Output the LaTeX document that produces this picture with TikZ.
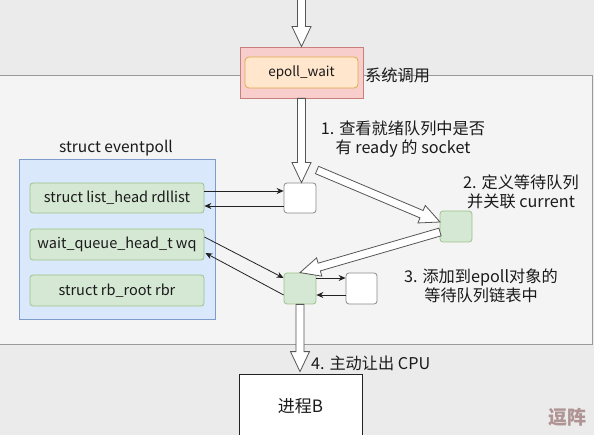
\documentclass[tikz,border=0pt]{standalone}
\usepackage{fontspec}
\setmainfont{Noto Sans CJK SC}
\usetikzlibrary{calc,arrows.meta}
\definecolor{bgc}{HTML}{EBEBEB}
\definecolor{innerc}{HTML}{F4F4F5}
\definecolor{innerline}{HTML}{9A9A9A}
\definecolor{pinkf}{HTML}{F8CECC}
\definecolor{pinkd}{HTML}{C87E7A}
\definecolor{orangef}{HTML}{FFE6CC}
\definecolor{oranged}{HTML}{E0A94A}
\definecolor{bluef}{HTML}{DAE8FC}
\definecolor{blued}{HTML}{7E9CCB}
\definecolor{greenf}{HTML}{D5E8D4}
\definecolor{greend}{HTML}{9CC38A}
\definecolor{whited}{HTML}{8A8A8A}
\definecolor{fatc}{HTML}{555555}
\definecolor{arrc}{HTML}{222222}
\definecolor{txtc}{HTML}{1A1A1A}
\definecolor{wmc}{HTML}{B09494}
\tikzset{
  fatarr/.style={draw=fatc, fill=white, line width=0.8pt, line join=miter},
  thinarr/.style={draw=arrc, line width=0.8pt, -{Stealth[length=7pt,width=6pt]}},
  basebox/.style={rectangle, inner sep=0pt, line width=0.8pt, text=txtc},
  greenbox/.style={basebox, fill=greenf, draw=greend, rounded corners=3pt},
  whitebox/.style={basebox, fill=white, draw=whited, rounded corners=3pt},
  lbl/.style={text=txtc, font=\fontsize{16.2}{19}\selectfont, align=center, inner sep=0pt},
  code/.style={font=\fontsize{14.5}{16}\selectfont}
}
\newcommand\fatarrow[2]{%
  \path[fatarr] let \p1=(#1), \p2=(#2), \n1={atan2(\y2-\y1,\x2-\x1)} in
    ($(\p1)+(\n1+90:4pt)$) --
    ($(\p2)+(\n1+180:20pt)+(\n1+90:4pt)$) --
    ($(\p2)+(\n1+180:20pt)+(\n1+90:9.5pt)$) --
    (\p2) --
    ($(\p2)+(\n1+180:20pt)+(\n1-90:9.5pt)$) --
    ($(\p2)+(\n1+180:20pt)+(\n1-90:4pt)$) --
    ($(\p1)+(\n1-90:4pt)$) -- cycle;}
\begin{document}
\begin{tikzpicture}[x=1pt,y=-1pt]
\useasboundingbox (0,0) rectangle (594,435);
\fill[bgc] (0,0) rectangle (594,435);
\filldraw[fill=innerc, draw=innerline, line width=0.9pt] (-2,75) rectangle (592,344);

% epoll_wait
\node[basebox, fill=pinkf, draw=pinkd, minimum width=123pt, minimum height=51pt] (ep) at (301.5,72.5) {};
\node[basebox, fill=orangef, draw=oranged, rounded corners=4pt, minimum width=113pt, minimum height=31pt, font=\fontsize{13.5}{15}\selectfont] (epi) at (301.5,72.5) {epoll\_wait};
\node[lbl, anchor=west] (sys) at (365,75) {系统调用};

% struct eventpoll
\node[lbl, font=\fontsize{15.5}{17}\selectfont] (evt) at (116,148) {struct eventpoll};
\node[basebox, fill=bluef, draw=blued, minimum width=196pt, minimum height=160pt] (blue) at (117,239) {};
\node[greenbox, code, minimum width=174pt, minimum height=30pt] (g1) at (117,198) {struct list\_head rdllist};
\node[greenbox, code, minimum width=174pt, minimum height=31pt] (g2) at (117,244.5) {wait\_queue\_head\_t wq};
\node[greenbox, code, minimum width=174pt, minimum height=31pt] (g3) at (117,290.5) {struct rb\_root rbr};

% small boxes
\node[whitebox, minimum width=32pt, minimum height=30pt] (b1) at (300,198) {};
\node[greenbox, minimum width=32pt, minimum height=31pt] (b2) at (456,226.5) {};
\node[greenbox, minimum width=32pt, minimum height=31pt] (b3) at (300,288.5) {};
\node[whitebox, minimum width=31pt, minimum height=31pt] (b4) at (361.5,288.5) {};

% process B
\node[basebox, fill=white, draw=arrc, minimum width=123pt, minimum height=65pt, font=\fontsize{17}{19}\selectfont] (pb) at (300.5,406.5) {进程B};

% labels
\node[lbl] (l1) at (403,139) {1. 查看就绪队列中是否\\有 ready 的 socket};
\node[lbl] (l2) at (521,192) {2. 定义等待队列\\并关联 current};
\node[lbl] (l3) at (481,286) {3. 添加到epoll对象的\\等待队列链表中};
\node[lbl, anchor=west] (l4) at (311,363) {4. 主动让出 CPU};
\node[text=wmc, font=\bfseries\fontsize{19}{20}\selectfont, inner sep=0pt] (wm) at (567,417) {逗阵};

% fat arrows
\coordinate (topin) at (301.5,-3);
\coordinate (d1s) at (317,170);
\coordinate (b2in) at (440,222);
\coordinate (b2out) at (440,232);
\fatarrow{topin}{ep.north}
\fatarrow{ep.south}{ep.south |- b1.north}
\fatarrow{d1s}{b2in}
\fatarrow{b2out}{b3.north}
\fatarrow{b3.south}{$(pb.north)+(-0.5,-2)$}

% thin arrows
\draw[thinarr] ($(g1.east)+(0,-7)$) -- ($(b1.west)+(0,-7)$);
\draw[thinarr] ($(b1.west)+(0,8)$) -- ($(g1.east)+(0,8)$);
\draw[thinarr] ($(g2.east)+(0,-7.5)$) -- ($(b3.west)+(0,-10.5)$);
\draw[thinarr] ($(b3.west)+(0,6.5)$) -- ($(g2.east)+(1,8.5)$);
\draw[thinarr] ($(b3.east)+(0,-10.5)$) -- ($(b4.west)+(0,-10.5)$);
\draw[thinarr] ($(b4.west)+(0,6.5)$) -- ($(b3.east)+(0,6.5)$);
\end{tikzpicture}
\end{document}
